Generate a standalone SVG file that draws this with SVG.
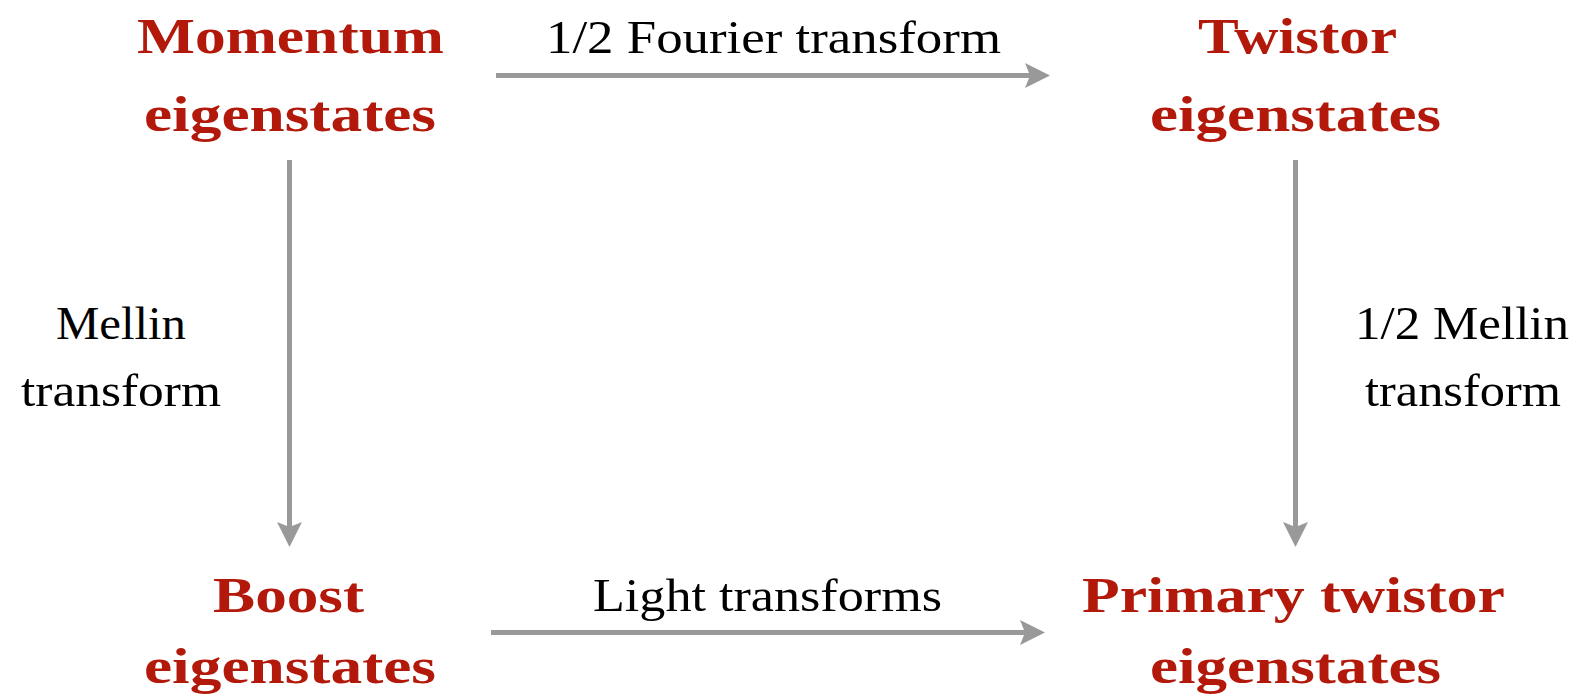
<svg xmlns="http://www.w3.org/2000/svg" width="1578" height="696" viewBox="0 0 1578 696">
<style>
.node{font-family:"Liberation Serif","Times New Roman",serif;font-weight:bold;font-size:51px;fill:#B3190B;text-anchor:middle}
.lbl{font-family:"Liberation Serif","Times New Roman",serif;font-size:47px;fill:#000;text-anchor:middle}
.edge{stroke:#999999;stroke-width:5;fill:none}
</style>
<defs>
<marker id="ah" viewBox="-26 -13 27 26" refX="-15" refY="0" markerWidth="27" markerHeight="26" markerUnits="userSpaceOnUse" orient="auto">
<path d="M0,0 L-25,-12.5 L-20,0 L-25,12.5 Z" fill="#999999"/>
</marker>
</defs>
<rect width="1578" height="696" fill="#fff"/>
<g id="connectors">
<line class="edge" x1="496" y1="75.5" x2="1035" y2="75.5" marker-end="url(#ah)"/>
<line class="edge" x1="491" y1="632.5" x2="1030" y2="632.5" marker-end="url(#ah)"/>
<line class="edge" x1="289.5" y1="160" x2="289.5" y2="532" marker-end="url(#ah)"/>
<line class="edge" x1="1295.5" y1="160" x2="1295.5" y2="532" marker-end="url(#ah)"/>
<text class="lbl" x="773.5" y="53" textLength="455" lengthAdjust="spacingAndGlyphs">1/2 Fourier transform</text>
<text class="lbl" x="767.5" y="611" textLength="349" lengthAdjust="spacingAndGlyphs">Light transforms</text>
<text class="lbl" x="121" y="339" textLength="130" lengthAdjust="spacingAndGlyphs">Mellin</text>
<text class="lbl" x="121" y="406" textLength="200" lengthAdjust="spacingAndGlyphs">transform</text>
<text class="lbl" x="1462" y="339" textLength="214" lengthAdjust="spacingAndGlyphs">1/2 Mellin</text>
<text class="lbl" x="1463" y="406" textLength="196" lengthAdjust="spacingAndGlyphs">transform</text>
</g>
<g id="momentum">
<text class="node" x="290.5" y="53" textLength="307" lengthAdjust="spacingAndGlyphs">Momentum</text>
<text class="node" x="290" y="131" textLength="292" lengthAdjust="spacingAndGlyphs">eigenstates</text>
</g>
<g id="twistor">
<text class="node" x="1297.5" y="53" textLength="199" lengthAdjust="spacingAndGlyphs">Twistor</text>
<text class="node" x="1295.5" y="131" textLength="291" lengthAdjust="spacingAndGlyphs">eigenstates</text>
</g>
<g id="boost">
<text class="node" x="288.5" y="612" textLength="151" lengthAdjust="spacingAndGlyphs">Boost</text>
<text class="node" x="290" y="683" textLength="292" lengthAdjust="spacingAndGlyphs">eigenstates</text>
</g>
<g id="primary">
<text class="node" x="1293.5" y="612" textLength="423" lengthAdjust="spacingAndGlyphs">Primary twistor</text>
<text class="node" x="1295.5" y="683" textLength="291" lengthAdjust="spacingAndGlyphs">eigenstates</text>
</g>
</svg>
